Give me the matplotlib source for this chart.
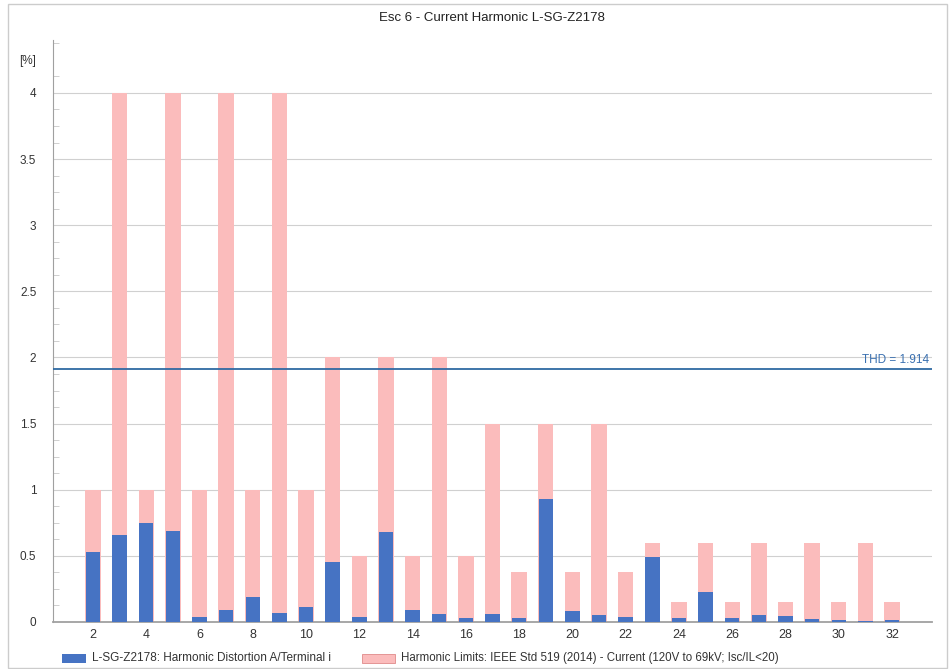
import matplotlib
matplotlib.use("Agg")
import matplotlib.pyplot as plt
from matplotlib.patches import Rectangle
from matplotlib.ticker import MultipleLocator

plt.rcParams['font.family'] = ['Liberation Sans', 'DejaVu Sans']

harmonics = list(range(2, 33))
limits = [1, 4, 1, 4, 1, 4, 1, 4, 1, 2, 0.5, 2, 0.5, 2, 0.5, 1.5, 0.375, 1.5, 0.375, 1.5,
          0.375, 0.6, 0.15, 0.6, 0.15, 0.6, 0.15, 0.6, 0.15, 0.6, 0.15]
measured = [0.53, 0.66, 0.745, 0.69, 0.04, 0.09, 0.19, 0.07, 0.11, 0.45, 0.04, 0.68, 0.09,
            0.06, 0.03, 0.06, 0.03, 0.93, 0.08, 0.055, 0.04, 0.49, 0.03, 0.23, 0.03, 0.05,
            0.045, 0.025, 0.015, 0.01, 0.015]
thd = 1.914
yticks = [0, 0.5, 1, 1.5, 2, 2.5, 3, 3.5, 4]
ytick_labels = ['0', '0.5', '1', '1.5', '2', '2.5', '3', '3.5', '4']
xticks = list(range(2, 33, 2))

title = "Esc 6 - Current Harmonic L-SG-Z2178"
label_meas = "L-SG-Z2178: Harmonic Distortion A/Terminal i"
label_lim = "Harmonic Limits: IEEE Std 519 (2014) - Current (120V to 69kV; Isc/IL<20)"

W, H = 949, 669
fig = plt.figure(figsize=(W / 100, H / 100), dpi=100)
ax = fig.add_axes([53 / W, 1 - 622 / H, (932 - 53) / W, (622 - 40) / H])

pink = '#fbbcbc'
blue = '#4673c3'
ax.bar(harmonics, limits, width=0.58, color=pink, zorder=2)
ax.bar(harmonics, measured, width=0.54, color=blue, zorder=3)

ax.axhline(thd, color='#2f6aa3', lw=1.3, zorder=4)
ax.text(33.4, thd + 0.02, f"THD = {thd}", color='#3a70b0', fontsize=8.5,
        ha='right', va='bottom', zorder=5)

ax.set_xlim(0.5, 33.5)
ax.set_ylim(0, 4.4)
ax.set_yticks(yticks + [4.25])
ax.set_yticklabels(ytick_labels + ['[%]'])
ax.yaxis.set_minor_locator(MultipleLocator(0.125))
ax.set_xticks(xticks)
ax.grid(axis='y', which='major', color='#d0d0d0', lw=0.8, zorder=0)
for gl, v in zip(ax.yaxis.get_gridlines(), yticks + [4.25]):
    if v == 4.25 or v == 0:
        gl.set_visible(False)

for s in ['top', 'right']:
    ax.spines[s].set_visible(False)
ax.spines['left'].set_color('#a0a0a0')
ax.spines['bottom'].set_color('#a0a0a0')
ax.spines['bottom'].set_linewidth(1.3)
ax.tick_params(axis='y', which='major', direction='in', length=0, labelsize=8.5,
               labelcolor='#333333', pad=12)
ax.tick_params(axis='y', which='minor', direction='in', length=4, color='#c8c8c8')
ax.tick_params(axis='x', length=0, labelsize=9, labelcolor='#333333', pad=5)

fig.text(492 / W, 1 - 18 / H, title, ha='center', va='center', fontsize=9.5, color='#222222')

# legend
fig.patches.append(Rectangle((62 / W, 1 - 663 / H), 24 / W, 9 / H, transform=fig.transFigure,
                             facecolor=blue, edgecolor='none'))
fig.text(92 / W, 1 - 658 / H, label_meas, ha='left', va='center', fontsize=8.5, color='#333333')
fig.patches.append(Rectangle((362 / W, 1 - 663 / H), 33 / W, 9 / H, transform=fig.transFigure,
                             facecolor=pink, edgecolor='#e08a8a', lw=0.6))
fig.text(401 / W, 1 - 658 / H, label_lim, ha='left', va='center', fontsize=8.3, color='#333333')

# outer border
fig.patches.append(Rectangle((8 / W, 1 - 668 / H), 939 / W, 664 / H, transform=fig.transFigure,
                             facecolor='none', edgecolor='#cccccc', lw=1))

fig.savefig('out.png', dpi=100)
